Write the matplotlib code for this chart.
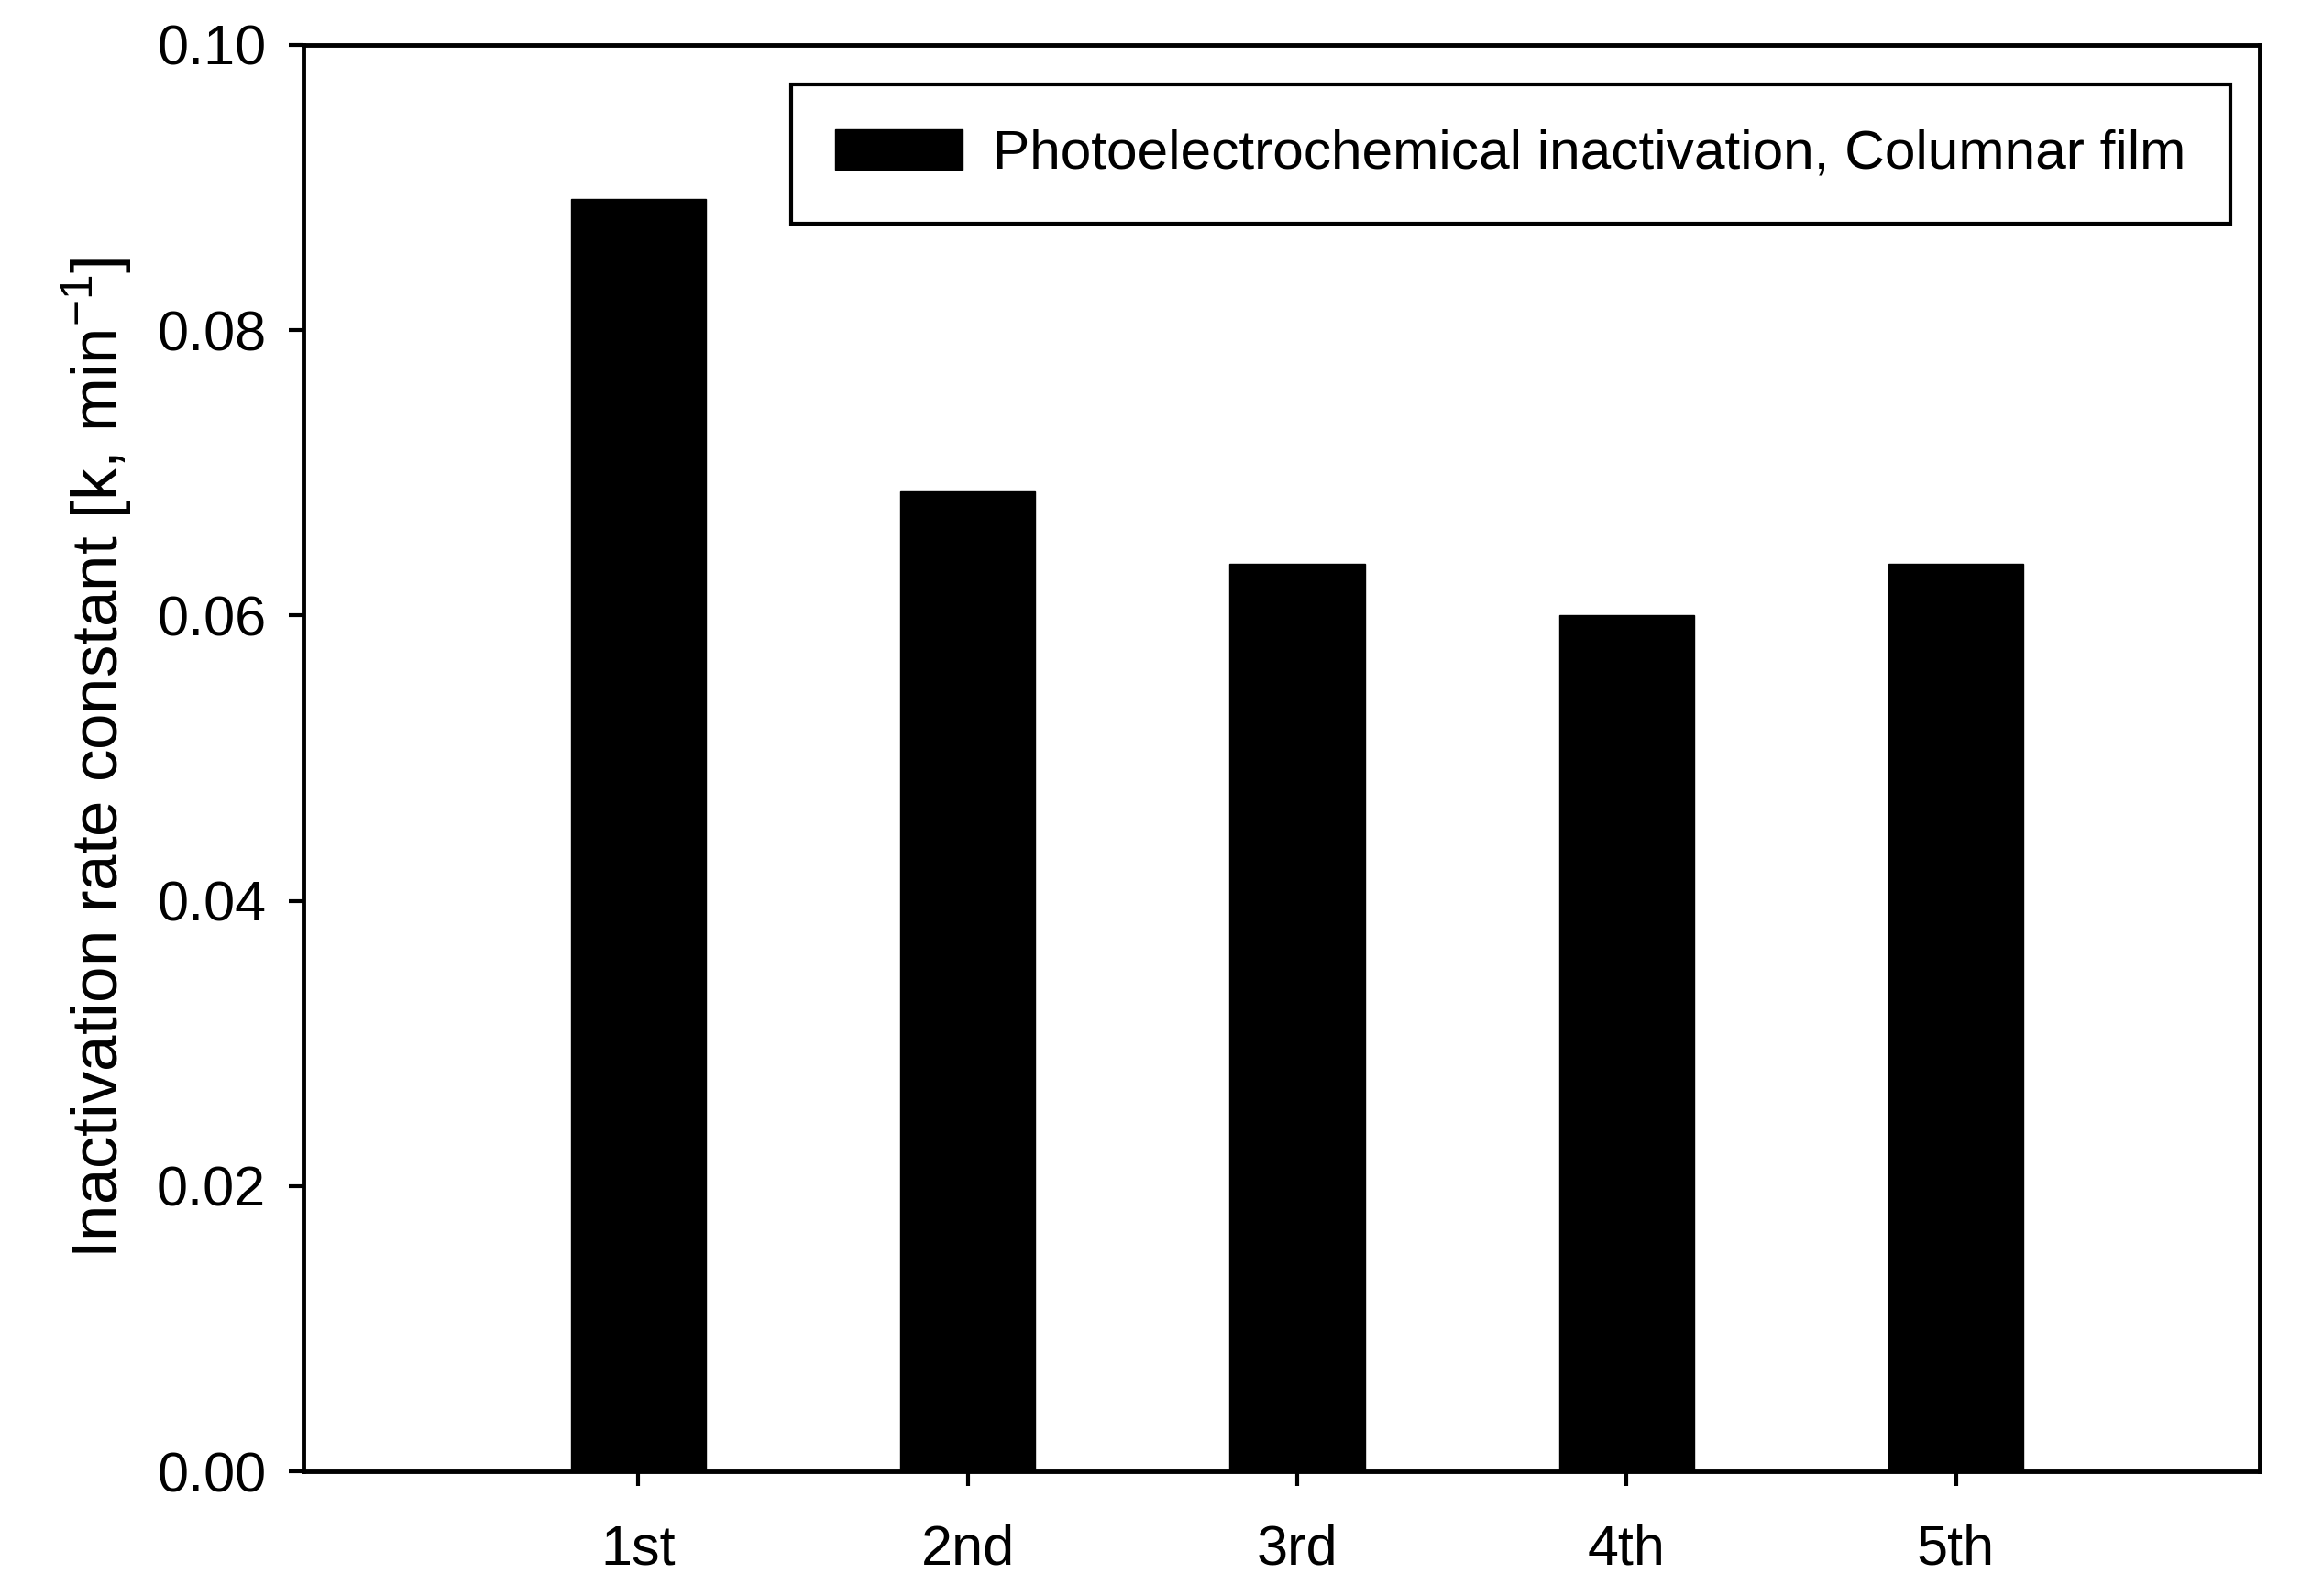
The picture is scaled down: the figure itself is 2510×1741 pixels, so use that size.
import matplotlib
matplotlib.use("Agg")
import matplotlib.pyplot as plt
import numpy as np

categories = ["1st", "2nd", "3rd", "4th", "5th"]
values = [0.0892, 0.0687, 0.0636, 0.0600, 0.0636]
series_label = "Photoelectrochemical inactivation, Columnar film"
y_ticks = [0.00, 0.02, 0.04, 0.06, 0.08, 0.10]

plt.rcParams['font.family'] = ['Liberation Sans', 'DejaVu Sans']

fig = plt.figure(figsize=(25.1, 17.41), dpi=100)
ax = fig.add_axes([0.132, 0.078, 0.850, 0.894])

x = np.arange(len(categories))
ax.bar(x, values, width=0.41, color='black', edgecolor='black', linewidth=1,
       label=series_label)

ax.set_xlim(-1.016, 4.922)
ax.set_ylim(0, 0.10)
ax.set_xticks(x)
ax.set_xticklabels(categories)
ax.set_yticks(y_ticks)
ax.set_yticklabels([f"{v:.2f}" for v in y_ticks])

for s in ax.spines.values():
    s.set_linewidth(3.5)
    s.set_color('black')

ax.tick_params(axis='both', direction='out', length=11.5, width=3, labelsize=44,
               colors='black')
ax.tick_params(axis='x', pad=30)
ax.tick_params(axis='y', pad=18)

ax.set_ylabel("Inactivation rate constant [k, min$^{\\mathregular{-1}}$]", fontsize=51,
              labelpad=18)

leg = ax.legend(loc='upper right', bbox_to_anchor=(0.985, 0.972), fontsize=43.5,
                frameon=True, fancybox=False, edgecolor='black', framealpha=1,
                borderpad=0.8, handlelength=2.3, handleheight=0.74,
                handletextpad=0.55, borderaxespad=0)
leg.get_frame().set_linewidth(3)

fig.savefig("out.png", dpi=100)
